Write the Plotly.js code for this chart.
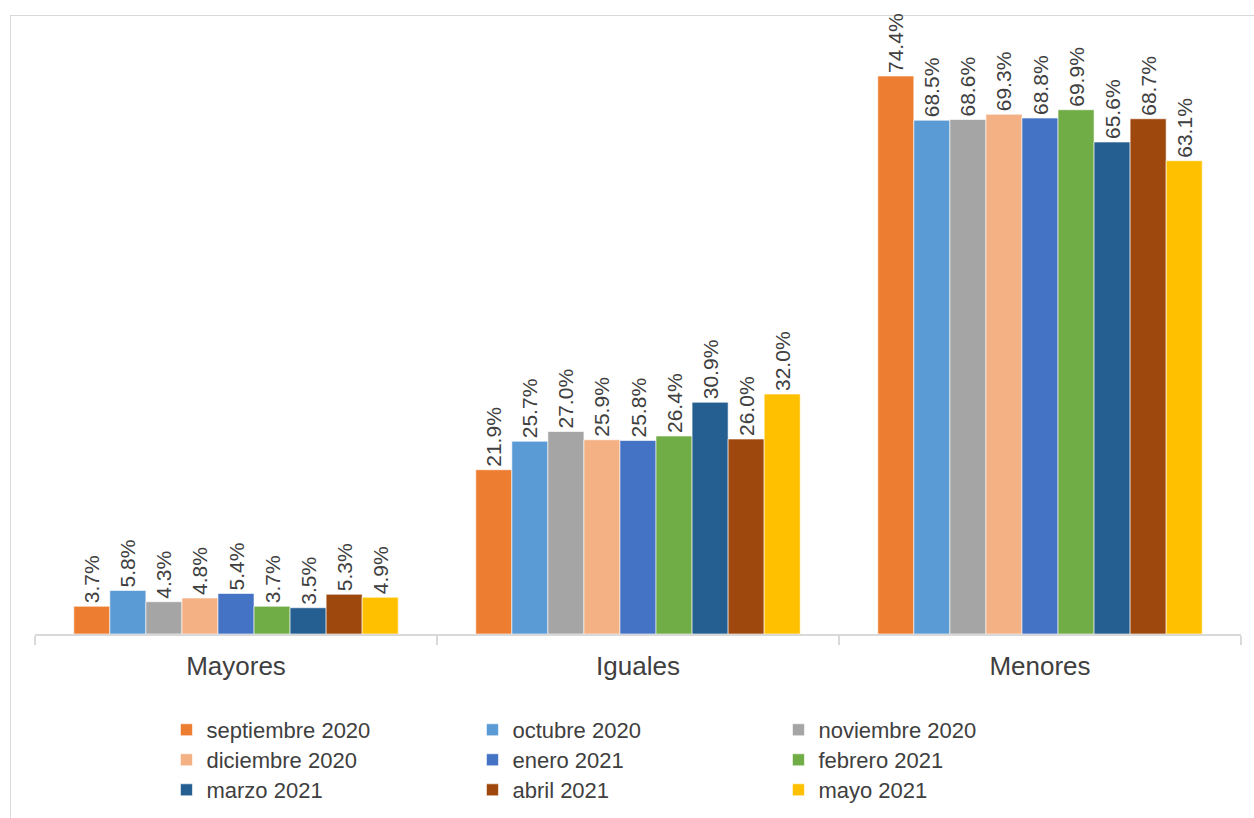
<!DOCTYPE html>
<html>
<head>
<meta charset="utf-8">
<script src="https://cdn.plot.ly/plotly-3.0.1.min.js"></script>
<style>
html,body{margin:0;padding:0;background:#fff;overflow:hidden;}
#frame{position:absolute;left:10px;top:15px;width:1250px;height:810px;border:1px solid #d9d9d9;box-sizing:border-box;}
#chart{position:absolute;left:0;top:0;width:1254px;height:818px;}
</style>
</head>
<body>
<div id="frame"></div>
<div id="chart"></div>
<script>
const categories = ["Mayores", "Iguales", "Menores"];
const seriesNames = ["septiembre 2020","octubre 2020","noviembre 2020","diciembre 2020","enero 2021","febrero 2021","marzo 2021","abril 2021","mayo 2021"];
const septiembre2020 = [3.7, 21.9, 74.4];
const octubre2020   = [5.8, 25.7, 68.5];
const noviembre2020 = [4.3, 27.0, 68.6];
const diciembre2020 = [4.8, 25.9, 69.3];
const enero2021     = [5.4, 25.8, 68.8];
const febrero2021   = [3.7, 26.4, 69.9];
const marzo2021     = [3.5, 30.9, 65.6];
const abril2021     = [5.3, 26.0, 68.7];
const mayo2021      = [4.9, 32.0, 63.1];
const seriesValues = [septiembre2020, octubre2020, noviembre2020, diciembre2020, enero2021, febrero2021, marzo2021, abril2021, mayo2021];
const colors = ["#ED7D31","#5B9BD5","#A5A5A5","#F4B183","#4472C4","#70AD47","#255E91","#9E480E","#FFC000"];

const FONT = "Arial";
const legendIds = ["legend", "legend2", "legend3"];

const traces = seriesNames.map((name, i) => ({
  type: "bar",
  name: name,
  x: categories,
  y: seriesValues[i],
  legend: legendIds[Math.floor(i / 3)],
  marker: {color: colors[i], line: {color: "#ffffff", width: 0.6}},
  text: seriesValues[i].map(v => v.toFixed(1) + "%"),
  textposition: "outside",
  textangle: -90,
  constraintext: "none",
  cliponaxis: false,
  textfont: {family: FONT, size: 21, color: "#404040"},
  hoverinfo: "x+y+name"
}));

function legendRow(y) {
  return {
    orientation: "h",
    x: 0.109, xanchor: "left",
    yref: "container",
    y: y, yanchor: "top",
    entrywidth: 261, entrywidthmode: "pixels",
    font: {family: FONT, size: 22, color: "#404040"},
    itemwidth: 30,
    tracegroupgap: 0,
    traceorder: "normal",
    bgcolor: "rgba(0,0,0,0)"
  };
}

const layout = {
  width: 1254, height: 818,
  margin: {l: 35, r: 13, t: 34, b: 184},
  paper_bgcolor: "rgba(0,0,0,0)",
  plot_bgcolor: "rgba(0,0,0,0)",
  barmode: "group",
  bargap: 0.193,
  bargroupgap: 0,
  font: {family: FONT, color: "#404040"},
  xaxis: {
    showline: true, linecolor: "#d9d9d9", linewidth: 2,
    ticks: "outside", tickson: "boundaries", ticklen: 9, tickcolor: "#d9d9d9", tickwidth: 2,
    ticklabelstandoff: 8,
    tickfont: {family: FONT, size: 26, color: "#404040"},
    showgrid: false, zeroline: false
  },
  yaxis: {
    range: [0, 80], visible: false, showgrid: false, zeroline: false
  },
  showlegend: true,
  legend: legendRow(0.1333),
  legend2: legendRow(0.0966),
  legend3: legendRow(0.0599)
};

Plotly.newPlot("chart", traces, layout, {displayModeBar: false, staticPlot: true});
</script>
</body>
</html>
